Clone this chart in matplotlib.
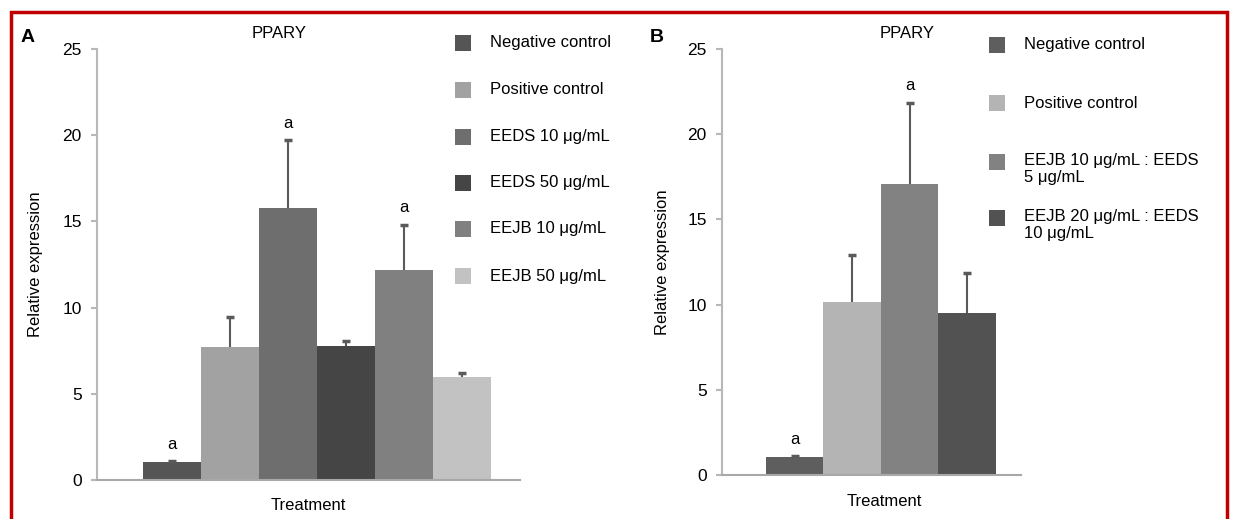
import matplotlib
matplotlib.use("Agg")
import matplotlib.pyplot as plt
from matplotlib.patches import Rectangle

plt.rcParams['font.family'] = ['Liberation Sans', 'DejaVu Sans']

# panel A
groups_a = ["Negative control", "Positive control", "EEDS 10 μg/mL",
            "EEDS 50 μg/mL", "EEJB 10 μg/mL", "EEJB 50 μg/mL"]
values_a = [1.05, 7.7, 15.8, 7.75, 12.2, 6.0]
err_a = [0.05, 1.75, 3.9, 0.3, 2.6, 0.2]
colors_a = ["#555555", "#a2a2a2", "#6e6e6e", "#454545", "#808080", "#c2c2c2"]
sig_a = ["a", "", "a", "", "a", ""]

# panel B
groups_b = ["Negative control", "Positive control",
            "EEJB 10 μg/mL : EEDS\n5 μg/mL", "EEJB 20 μg/mL : EEDS\n10 μg/mL"]
values_b = [1.05, 10.15, 17.1, 9.5]
err_b = [0.05, 2.75, 4.75, 2.35]
colors_b = ["#5e5e5e", "#b4b4b4", "#828282", "#525252"]
sig_b = ["a", "", "a", ""]

yticks = [0, 5, 10, 15, 20, 25]

W, H = 1238, 519
fig = plt.figure(figsize=(W / 100, H / 100), dpi=100)

def px(x0, y0, x1, y1):
    return [x0 / W, 1 - y1 / H, (x1 - x0) / W, (y1 - y0) / H]

def draw_panel(rect, vals, errs, cols, sig, xlim):
    ax = fig.add_axes(rect)
    x = list(range(len(vals)))
    ax.bar(x, vals, width=1.0, color=cols, edgecolor="none", zorder=2)
    for i in x:
        eb = ax.errorbar(i, vals[i], yerr=[[0], [errs[i]]], fmt="none",
                         ecolor="#5a5a5a", elinewidth=1.5, capsize=3, capthick=2.5, zorder=3)
        # only the upper cap, like the original
        eb[1][0].remove()
        if sig[i]:
            ax.text(i, vals[i] + errs[i] + 0.55, sig[i], ha="center", va="bottom", fontsize=12)
    ax.set_xlim(*xlim)
    ax.set_ylim(0, 25)
    ax.set_yticks(yticks)
    ax.set_xticks([])
    for s in ["top", "right"]:
        ax.spines[s].set_visible(False)
    ax.spines["left"].set_color("#b8b8b8")
    ax.spines["left"].set_linewidth(1.5)
    ax.spines["bottom"].set_color("#a8a8a8")
    ax.spines["bottom"].set_linewidth(1.5)
    ax.tick_params(axis="y", length=4, width=1.5, color="#b8b8b8", labelsize=12.5, pad=7)
    ax.set_ylabel("Relative expression", fontsize=12)
    ax.set_xlabel("Treatment", fontsize=12, labelpad=13)
    return ax

ax_a = draw_panel(px(97, 49, 520, 480), values_a, err_a, colors_a, sig_a, (-1.29, 6.0))
ax_a.yaxis.set_label_coords(-0.128, 0.5)
ax_a.set_title("PPARY", fontsize=12, x=0.43, y=1.0, pad=8)

ax_b = draw_panel(px(722, 49, 1021, 475), values_b, err_b, colors_b, sig_b, (-1.265, 3.935))
ax_b.yaxis.set_label_coords(-0.175, 0.5)
ax_b.xaxis.set_label_coords(0.543, -0.045)
ax_b.xaxis.label.set_va("top")
ax_b.set_title("PPARY", fontsize=12, x=0.62, y=1.0, pad=8)

# legends drawn as squares + text
def draw_legend(x_sq, x_txt, rows, labels, cols):
    for y, lab, c in zip(rows, labels, cols):
        fig.patches.append(Rectangle((x_sq / W, 1 - (y + 8) / H), 16 / W, 16 / H,
                                     transform=fig.transFigure, facecolor=c, edgecolor="none"))
        fig.text(x_txt / W, 1 - y / H, lab, ha="left", va="top" if "\n" in lab else "center",
                 fontsize=12, linespacing=1.15)

draw_legend(455, 490, [43, 90, 137, 183, 229, 276], groups_a, colors_a)
# two-line labels in B start at their first line
draw_legend(989, 1024, [45, 103, 162, 218], groups_b, colors_b)
for t in fig.texts[-2:]:
    x0, y0 = t.get_position()
    t.set_position((x0, y0 + 9 / H))

fig.text(21 / W, 1 - 37 / H, "A", fontsize=14, fontweight="bold", va="center")
fig.text(650 / W, 1 - 37 / H, "B", fontsize=14, fontweight="bold", va="center")

# red frame
fig.patches.append(Rectangle((11 / W, -0.05), (1227 - 11) / W, 1.05 - 12 / H,
                             transform=fig.transFigure, fill=False,
                             edgecolor="#c00000", linewidth=2.5))

fig.savefig("out.png", dpi=100)
